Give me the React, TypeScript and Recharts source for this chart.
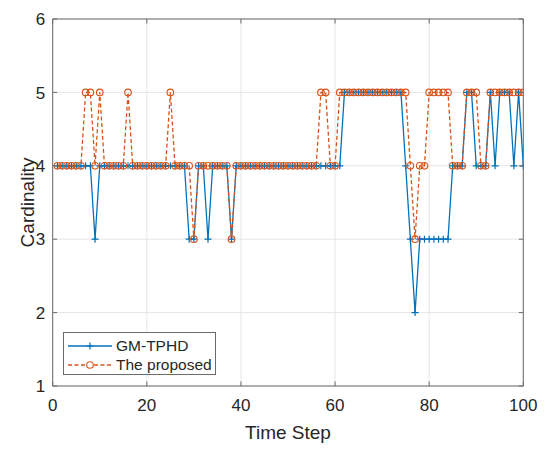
import React from 'react';
import { LineChart, Line, XAxis, YAxis, CartesianGrid, Legend, ReferenceLine, Label } from 'recharts';

// ---- data ----
const steps = [
  1, 2, 3, 4, 5, 6, 7, 8, 9, 10, 11, 12, 13, 14, 15, 16, 17, 18, 19, 20,
  21, 22, 23, 24, 25, 26, 27, 28, 29, 30, 31, 32, 33, 34, 35, 36, 37, 38, 39, 40,
  41, 42, 43, 44, 45, 46, 47, 48, 49, 50, 51, 52, 53, 54, 55, 56, 57, 58, 59, 60,
  61, 62, 63, 64, 65, 66, 67, 68, 69, 70, 71, 72, 73, 74, 75, 76, 77, 78, 79, 80,
  81, 82, 83, 84, 85, 86, 87, 88, 89, 90, 91, 92, 93, 94, 95, 96, 97, 98, 99, 100,
];

const gmTphd = [
  4, 4, 4, 4, 4, 4, 4, 4, 3, 4, 4, 4, 4, 4, 4, 4, 4, 4, 4, 4,
  4, 4, 4, 4, 4, 4, 4, 4, 3, 3, 4, 4, 3, 4, 4, 4, 4, 3, 4, 4,
  4, 4, 4, 4, 4, 4, 4, 4, 4, 4, 4, 4, 4, 4, 4, 4, 4, 4, 4, 4,
  4, 5, 5, 5, 5, 5, 5, 5, 5, 5, 5, 5, 5, 5, 4, 3, 2, 3, 3, 3,
  3, 3, 3, 3, 4, 4, 4, 5, 5, 4, 4, 4, 5, 4, 5, 5, 5, 4, 5, 4,
];

const proposed = [
  4, 4, 4, 4, 4, 4, 5, 5, 4, 5, 4, 4, 4, 4, 4, 5, 4, 4, 4, 4,
  4, 4, 4, 4, 5, 4, 4, 4, 4, 3, 4, 4, 4, 4, 4, 4, 4, 3, 4, 4,
  4, 4, 4, 4, 4, 4, 4, 4, 4, 4, 4, 4, 4, 4, 4, 4, 5, 5, 4, 4,
  5, 5, 5, 5, 5, 5, 5, 5, 5, 5, 5, 5, 5, 5, 5, 4, 3, 4, 4, 5,
  5, 5, 5, 5, 4, 4, 4, 5, 5, 5, 4, 4, 5, 5, 5, 5, 5, 5, 5, 5,
];

const xTicks = [0, 20, 40, 60, 80, 100];
const yTicks = [1, 2, 3, 4, 5, 6];
const seriesNames = ['GM-TPHD', 'The proposed'];

const data = steps.map((t, i) => ({ t, gm: gmTphd[i], pr: proposed[i] }));

// ---- style / layout ----
const W = 550;
const H = 453;
const PLOT_LEFT = 52.7;
const PLOT_TOP = 19;
const PLOT_RIGHT = 523.3;
const PLOT_BOTTOM = 386;
const Y_AXIS_W = 40;
const X_AXIS_H = 30;
const PLOT_W = PLOT_RIGHT - PLOT_LEFT;
const PLOT_H = PLOT_BOTTOM - PLOT_TOP;
const BLUE = '#0072BD';
const ORANGE = '#D95319';
const TEXT = '#262626';
const AXIS = '#6b6b6b';
const FONT = '"Liberation Sans", Arial, Helvetica, sans-serif';
const TICK_LEN = 4.5;
const TICK_FONT = 17;
const LABEL_FONT = 19;

const XTick = (props: any) => {
  const { x, y, payload } = props;
  return (
    <g>
      <line x1={x} y1={y} x2={x} y2={y - TICK_LEN} stroke={AXIS} strokeWidth={1} />
      <line x1={x} y1={y - PLOT_H} x2={x} y2={y - PLOT_H + TICK_LEN} stroke={AXIS} strokeWidth={1} />
      <text x={x} y={y + 24.5} textAnchor="middle" fontFamily={FONT} fontSize={TICK_FONT} fill={TEXT}>
        {payload.value}
      </text>
    </g>
  );
};

const YTick = (props: any) => {
  const { x, y, payload } = props;
  return (
    <g>
      <line x1={x} y1={y} x2={x + TICK_LEN} y2={y} stroke={AXIS} strokeWidth={1} />
      <line x1={x + PLOT_W} y1={y} x2={x + PLOT_W - TICK_LEN} y2={y} stroke={AXIS} strokeWidth={1} />
      <text x={x - 7.5} y={y + 6.1} textAnchor="end" fontFamily={FONT} fontSize={TICK_FONT} fill={TEXT}>
        {payload.value}
      </text>
    </g>
  );
};

const PlusDot = (props: any) => {
  const { cx, cy, index } = props;
  if (cx == null || cy == null) return <g key={`p${index}`} />;
  const s = 3.5;
  return (
    <path
      key={`p${index}`}
      d={`M${cx - s},${cy}H${cx + s}M${cx},${cy - s}V${cy + s}`}
      stroke={BLUE}
      strokeWidth={1.2}
      fill="none"
    />
  );
};

const CircleDot = (props: any) => {
  const { cx, cy, index } = props;
  if (cx == null || cy == null) return <g key={`c${index}`} />;
  return <circle key={`c${index}`} cx={cx} cy={cy} r={3.3} stroke={ORANGE} strokeWidth={1.1} fill="none" />;
};

const LegendBox = () => (
  <div
    style={{
      position: 'relative',
      width: 153,
      height: 43,
      boxSizing: 'border-box',
      border: `1px solid ${AXIS}`,
      background: '#fff',
      fontFamily: FONT,
      fontSize: 15.5,
      color: TEXT,
    }}
  >
    {seriesNames.map((name, i) => (
      <div key={name} style={{ position: 'absolute', left: 0, top: i === 0 ? 4 : 22.5, height: 18, display: 'flex', alignItems: 'center' }}>
        <svg width={52} height={18} style={{ display: 'block' }}>
          {i === 0 ? (
            <g>
              <line x1={4} y1={9} x2={48} y2={9} stroke={BLUE} strokeWidth={1.3} />
              <path d="M22.5,9H29.5M26,5.5V12.5" stroke={BLUE} strokeWidth={1.2} fill="none" />
            </g>
          ) : (
            <g>
              <line x1={4} y1={9} x2={48} y2={9} stroke={ORANGE} strokeWidth={1.3} strokeDasharray="4 2.5" />
              <circle cx={26} cy={9} r={3.3} stroke={ORANGE} strokeWidth={1.1} fill="#fff" />
            </g>
          )}
        </svg>
        <span style={{ marginLeft: 0, lineHeight: '18px', whiteSpace: 'nowrap' }}>{name}</span>
      </div>
    ))}
  </div>
);

export default function App() {
  return (
    <div style={{ position: 'absolute', left: 0, top: 0, width: W, height: H, background: '#fff' }}>
      <LineChart
        width={W}
        height={H}
        data={data}
        margin={{
          top: PLOT_TOP,
          right: W - PLOT_RIGHT,
          bottom: H - PLOT_BOTTOM - X_AXIS_H,
          left: PLOT_LEFT - Y_AXIS_W,
        }}
      >
        <CartesianGrid stroke="#e6e6e6" strokeWidth={1} />
        <XAxis
          dataKey="t"
          type="number"
          domain={[0, 100]}
          ticks={xTicks}
          allowDataOverflow
          height={X_AXIS_H}
          tickSize={0}
          tickMargin={0}
          tickLine={false}
          axisLine={{ stroke: AXIS, strokeWidth: 1 }}
          tick={<XTick />}
          interval={0}
        >
          <Label
            content={() => (
              <text x={(PLOT_LEFT + PLOT_RIGHT) / 2} y={439} textAnchor="middle" fontFamily={FONT} fontSize={LABEL_FONT} fill={TEXT}>
                Time Step
              </text>
            )}
          />
        </XAxis>
        <YAxis
          type="number"
          domain={[1, 6]}
          ticks={yTicks}
          allowDataOverflow
          width={Y_AXIS_W}
          tickSize={0}
          tickMargin={0}
          tickLine={false}
          axisLine={{ stroke: AXIS, strokeWidth: 1 }}
          tick={<YTick />}
          interval={0}
        >
          <Label
            content={() => {
              const cx = 27;
              const cy = (PLOT_TOP + PLOT_BOTTOM) / 2;
              return (
                <text
                  x={cx}
                  y={cy}
                  transform={`rotate(-90 ${cx} ${cy})`}
                  textAnchor="middle"
                  dominantBaseline="central"
                  fontFamily={FONT}
                  fontSize={LABEL_FONT}
                  fill={TEXT}
                >
                  Cardinality
                </text>
              );
            }}
          />
        </YAxis>
        <ReferenceLine x={100} stroke={AXIS} strokeWidth={1} />
        <ReferenceLine y={6} stroke={AXIS} strokeWidth={1} />
        <Line
          type="linear"
          dataKey="gm"
          name={seriesNames[0]}
          stroke={BLUE}
          strokeWidth={1.3}
          dot={PlusDot}
          activeDot={false}
          isAnimationActive={false}
        />
        <Line
          type="linear"
          dataKey="pr"
          name={seriesNames[1]}
          stroke={ORANGE}
          strokeWidth={1.3}
          strokeDasharray="4 2.5"
          dot={CircleDot}
          activeDot={false}
          isAnimationActive={false}
        />
        <Legend
          layout="horizontal"
          verticalAlign="middle"
          align="center"
          content={() => <LegendBox />}
          wrapperStyle={{ position: 'absolute', left: 63, top: 332, width: 153, height: 43 }}
        />
      </LineChart>
    </div>
  );
}
